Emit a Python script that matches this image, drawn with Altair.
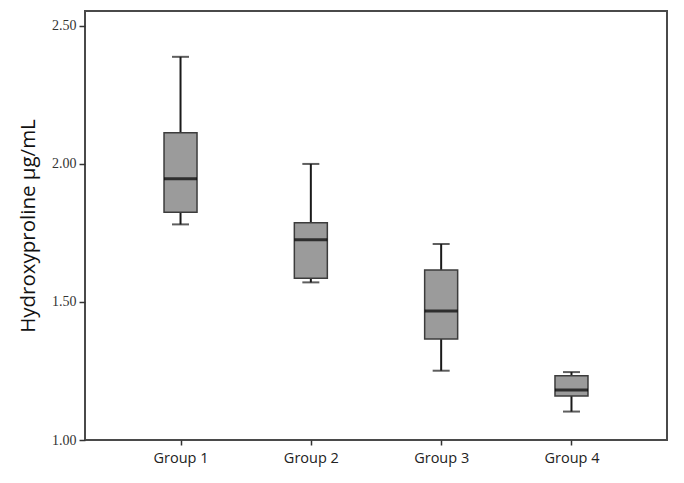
import altair as alt
import pandas as pd

# Hydroxyproline concentration (µg/mL) per group: whisker ends, quartiles, median
groups = ["Group 1", "Group 2", "Group 3", "Group 4"]
whisker_low = [1.781, 1.571, 1.251, 1.103]
q1 = [1.825, 1.586, 1.366, 1.159]
median = [1.946, 1.725, 1.467, 1.181]
q3 = [2.113, 1.787, 1.616, 1.233]
whisker_high = [2.388, 2.000, 1.710, 1.246]

y_ticks = [1.0, 1.5, 2.0, 2.5]

df = pd.DataFrame({
    "group": groups,
    "lo": whisker_low,
    "q1": q1,
    "med": median,
    "q3": q3,
    "hi": whisker_high,
})

x_enc = alt.X(
    "group:N",
    sort=groups,
    scale=alt.Scale(type="point", padding=0.733),
    axis=alt.Axis(
        title=None,
        labelAngle=0,
        labelFont="Open Sans",
        labelFontSize=14.5,
        labelColor="#222222",
        labelPadding=6,
        tickSize=5,
        tickColor="#333333",
        tickWidth=1.5,
        domain=False,
        grid=False,
    ),
)

y_scale = alt.Scale(domain=[1.0, 2.554], nice=False, zero=False)

y_axis = alt.Axis(
    title="Hydroxyproline µg/mL",
    titleFont="Open Sans",
    titleFontSize=20.5,
    titleFontWeight="normal",
    titleColor="#111111",
    titlePadding=13,
    values=y_ticks,
    format=".2f",
    labelFont="Liberation Serif",
    labelFontSize=14,
    labelColor="#333333",
    labelPadding=3,
    tickSize=6,
    tickColor="#333333",
    tickWidth=1.5,
    domain=False,
    grid=False,
)

base = alt.Chart(df).encode(x=x_enc)

whisker = base.mark_rule(color="#1a1a1a", strokeWidth=2).encode(
    y=alt.Y("lo:Q", scale=y_scale, axis=y_axis),
    y2="hi:Q",
)

cap_low = base.mark_tick(color="#1a1a1a", size=17, thickness=2).encode(
    y=alt.Y("lo:Q", scale=y_scale)
)
cap_high = base.mark_tick(color="#1a1a1a", size=17, thickness=2).encode(
    y=alt.Y("hi:Q", scale=y_scale)
)

box = base.mark_bar(size=33, color="#9b9b9b", stroke="#3c3c3c", strokeWidth=1.5).encode(
    y=alt.Y("q1:Q", scale=y_scale),
    y2="q3:Q",
)

med = base.mark_tick(color="#000000", size=33, thickness=3).encode(
    y=alt.Y("med:Q", scale=y_scale)
)

chart = (
    alt.layer(whisker, cap_low, cap_high, box, med)
    .properties(
        width=582,
        height=429,
        autosize=alt.AutoSizeParams(type="none"),
        padding={"left": 85, "top": 11, "right": 17, "bottom": 43},
        background="white",
    )
    .configure_view(stroke="#4a4a4a", strokeWidth=2)
)

chart.save("out.html", embed_options={"renderer": "svg", "actions": False})
